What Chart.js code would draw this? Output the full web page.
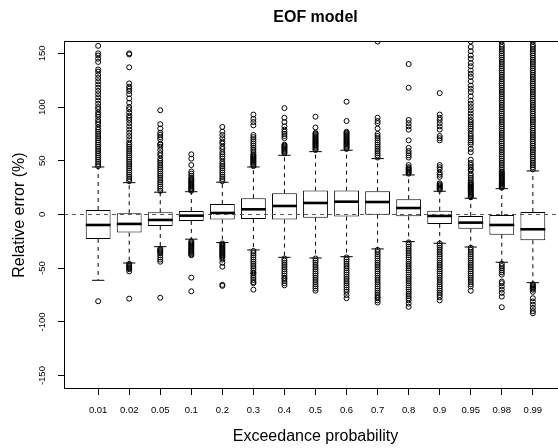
<!DOCTYPE html>
<html>
<head>
<meta charset="utf-8">
<script src="https://cdn.jsdelivr.net/npm/chart.js@4/dist/chart.umd.min.js"></script>
<style>
  html, body { margin: 0; padding: 0; background: #fff; overflow: hidden; }
  #wrap { width: 568px; height: 448px; position: relative; }
  canvas { display: block; }
</style>
</head>
<body>
<div id="wrap"><canvas id="c" width="568" height="448"></canvas></div>
<script>
// ---- data ----
const categories = ['0.01','0.02','0.05','0.1','0.2','0.3','0.4','0.5','0.6','0.7','0.8','0.9','0.95','0.98','0.99'];
const q1          = [-22.8, -16.9, -10.7, -6.0, -4.8, -4.2, -4.8, -3.0, -2.0, -0.2, -1.7, -8.8, -13.2, -18.8, -24.0];
const median      = [-9.8, -8.8, -5.1, -1.1, 1.4, 4.8, 7.9, 10.7, 11.9, 11.6, 6.0, -1.4, -7.6, -9.8, -13.8];
const q3          = [4.2, 1.1, 2.0, 3.2, 9.8, 15.1, 19.7, 22.2, 22.2, 21.6, 14.2, 3.5, -1.4, -0.5, 2.3];
const whiskerLow  = [-61.3, -45.2, -30.0, -23.0, -26.2, -33.0, -39.9, -40.5, -39.3, -32.1, -25.3, -26.8, -30.3, -44.5, -63.5];
const whiskerHigh = [44.2, 29.6, 20.7, 21.2, 30.0, 44.2, 55.1, 58.5, 59.8, 52.0, 36.8, 21.6, 15.1, 24.0, 40.5];
const outliersHigh = [
  [45,47,49,51,53,55,57,59,61,63,65,67,69,71,73,75,77,79,81,84,86,88,91,93,95,98,100,103,106,109,112,115,118,121,124,127,130,133,135,142,145,148,150,157],
  [31,33,35,37,39,41,43,45,47,49,51,53,55,57,59,61,63,65,67,70,73,76,79,82,85,88,90,92,95,98,100,104,108,112,115,117,119,122,137,149,150],
  [22,24,26,28,30,32,34,36,38,40,42,44,46,48,50,52,55,57,60,63,65,66,70,72,74,76,80,84,97],
  [22,23,24,25,26,27,28,29,30,31,32,33,34,36,38,40,46,52,56],
  [31,33,35,37,39,41,43,45,47,49,52,54,56,58,61,63,66,68,71,74,77,81.5],
  [45,46,47,48,49,50,51,52,53,54,55,56,58,60,62,64,66,68,70,72,74,83,86,89,93],
  [57,58,59,60,61,62,63,64,65,71,73,75,77,79,82,86,90,99],
  [60,61,62,63,64,65,66,67,68,69,70,71,72,73,74,75,76,81,91],
  [61,62,63,64,65,66,67,68,69,70,71,72,73,74,75,76,77,87,105],
  [53,55,57,59,61,63,65,67,69,71,73,75,80,85,87,90,161],
  [38,39,40,41,42,43,44,46,53,55,57,59,62,69,79,82,85,88,118,140],
  [23,24,25,26,27,28,29,35,37,39,42,44,46,69,71,73,79,82,85,88,90,93,113],
  [16,17,18,19,20,21,22,23,24,25,26,27,28,29,30,32,34,36,38,41,42,44,46,48,51,58,61,65,67,69,71,73,75,78,80,82,84,86,88,91,94,97,100,103,106,110,114,117,120,124,128,131,134,138,141,145,148,152,156,161],
  [25,26,27,28,29,30,31,32,33,34,35,36,37,38,39,40,42,44,46,48,50,52,54,56,58,60,62,64,66,68,70,72,74,76,78,80,82,84,86,88,90,92,94,96,98,100,102,104,106,108,110,112,114,116,118,120,122,124,126,128,130,132,134,136,138,140,142,144,146,148,150,152,154,156,158,161],
  [42,44,46,48,50,52,54,56,58,60,62,64,66,68,70,72,74,76,78,80,82,84,86,88,90,92,94,96,98,100,102,104,106,108,110,112,114,116,118,120,122,124,126,128,130,132,134,136,138,140,142,144,146,148,150,152,154,156,158,161]
];
const outliersLow = [
  [-80.8],
  [-46,-47,-48,-49,-50,-51,-53,-78.4],
  [-32,-33,-34,-35,-36,-38,-40,-42,-44,-77.5],
  [-25,-26,-27,-28,-29,-30,-31,-32,-33,-34,-35,-36,-37,-38,-58.8,-71.5],
  [-27,-28,-29,-30,-31,-32,-33,-34,-35,-36,-37,-38,-39,-40,-42,-45,-48.6,-65.5,-66.5],
  [-34,-36,-38,-40,-42,-44,-46,-48,-50,-52,-54,-55,-57,-59,-61,-63,-64,-70],
  [-41,-43,-45,-47,-49,-51,-53,-55,-57,-59,-60,-62,-64,-66],
  [-41,-43,-45,-47,-49,-51,-53,-55,-57,-59,-61,-63,-65,-67,-69,-71],
  [-40,-42,-44,-46,-48,-50,-52,-54,-56,-58,-60,-62,-64,-66,-68,-70,-72,-75,-78],
  [-33,-35,-37,-39,-41,-43,-45,-47,-49,-51,-53,-55,-57,-59,-61,-63,-65,-67,-69,-71,-73,-75,-77,-78,-80,-82],
  [-26,-28,-30,-32,-34,-36,-38,-40,-42,-44,-46,-48,-50,-52,-54,-56,-58,-60,-62,-64,-66,-68,-70,-72,-74,-76,-78,-80,-83,-86],
  [-27,-29,-31,-33,-35,-37,-39,-41,-43,-45,-47,-49,-51,-53,-55,-57,-59,-61,-63,-65,-67,-69,-71,-73,-75,-77,-80],
  [-31,-33,-35,-37,-39,-41,-43,-45,-47,-49,-51,-53,-55,-57,-59,-61,-63,-65,-67,-71],
  [-46,-48,-50,-52,-54,-56,-62.5,-64,-67,-70,-73,-76.5,-86.4],
  [-65,-66,-67,-68,-69,-70,-72,-78,-81,-84,-87,-90,-92]
];
const yTickValues = [-150, -100, -50, 0, 50, 100, 150];
const chartTitle = 'EOF model';
const xTitle = 'Exceedance probability';
const yTitle = 'Relative error (%)';

// ---- build datasets from the arrays ----
const pos = categories.map((c, i) => i + 1);
const boxData = pos.map((x, i) => ({ x, y: [q1[i], q3[i]] }));
const medianData = pos.map((x, i) => ({ x, y: median[i] }));
const capData = [];
const whiskerData = [];
pos.forEach((x, i) => {
  capData.push({ x, y: whiskerHigh[i] }, { x, y: whiskerLow[i] });
  whiskerData.push({ x, y: q3[i] }, { x, y: whiskerHigh[i] }, { x, y: null },
                   { x, y: q1[i] }, { x, y: whiskerLow[i] }, { x, y: null });
});
const outlierData = [];
pos.forEach((x, i) => {
  outliersHigh[i].forEach(v => outlierData.push({ x, y: v }));
  outliersLow[i].forEach(v => outlierData.push({ x, y: v }));
});

Chart.defaults.font.family = "'Liberation Sans', Arial, sans-serif";
Chart.defaults.color = '#000';

const framePlugin = {
  id: 'frameAndTitle',
  afterDraw(chart) {
    const { ctx, chartArea: a, scales } = chart;
    ctx.save();
    ctx.strokeStyle = '#000';
    ctx.lineWidth = 1;
    ctx.strokeRect(a.left + 0.5, a.top + 0.5, a.right - a.left - 1, a.bottom - a.top - 1);
    ctx.fillStyle = '#000';
    ctx.font = "bold 16px 'Liberation Sans', Arial, sans-serif";
    ctx.textAlign = 'center';
    ctx.textBaseline = 'alphabetic';
    ctx.fillText(chartTitle, (scales.x.left + scales.x.right) / 2, 22);
    ctx.restore();
  }
};

new Chart(document.getElementById('c'), {
  type: 'scatter',
  data: {
    datasets: [
      { type: 'line', data: [{ x: -0.1, y: 0 }, { x: 16.1, y: 0 }], borderColor: '#555', borderWidth: 1,
        borderDash: [4, 4], pointRadius: 0, fill: false, order: 0 },
      { type: 'scatter', data: outlierData, pointStyle: 'circle', pointRadius: 2.5, borderWidth: 1,
        borderColor: '#000', backgroundColor: 'rgba(0,0,0,0)', order: 1 },
      { type: 'scatter', data: medianData, pointStyle: 'line', pointRadius: 12.42, borderWidth: 2.6,
        borderColor: '#000', order: 2 },
      { type: 'bar', data: boxData, backgroundColor: '#fff', borderColor: '#000', borderWidth: 1,
        borderSkipped: false, categoryPercentage: 0.8, barPercentage: 1, order: 3 },
      { type: 'scatter', data: capData, pointStyle: 'line', pointRadius: 6.2, borderWidth: 1,
        borderColor: '#000', order: 4 },
      { type: 'line', data: whiskerData, borderColor: '#000', borderWidth: 1, borderDash: [4, 4],
        pointRadius: 0, spanGaps: false, fill: false, order: 5 }
    ]
  },
  options: {
    responsive: false,
    maintainAspectRatio: false,
    animation: false,
    events: [],
    layout: { autoPadding: false, padding: { top: 41, right: 1, left: 0, bottom: 0 } },
    plugins: { legend: { display: false }, tooltip: { enabled: false }, title: { display: false } },
    scales: {
      x: {
        type: 'linear', min: -0.1, max: 16.1, offset: false,
        afterFit: s => { s.height = 59; },
        afterBuildTicks: s => { s.ticks = pos.map(v => ({ value: v })); },
        ticks: { callback: v => categories[v - 1], autoSkip: false, maxRotation: 0, minRotation: 0,
                 padding: 10, font: { size: 9.5 }, color: '#000' },
        grid: { display: true, offset: false, drawOnChartArea: false, drawTicks: true, tickLength: 6, color: '#000', tickColor: '#000', lineWidth: 1 },
        border: { display: false },
        title: { display: true, text: xTitle, font: { size: 16 }, color: '#000', padding: { top: 0, bottom: 2 } }
      },
      y: {
        type: 'linear', min: -162.5, max: 161.5,
        afterFit: s => { s.width = 64; },
        afterBuildTicks: s => { s.ticks = yTickValues.map(v => ({ value: v })); },
        ticks: { autoSkip: false, minRotation: 90, maxRotation: 90, crossAlign: 'center', padding: 6,
                 font: { size: 9.5 }, color: '#000' },
        grid: { display: true, offset: false, drawOnChartArea: false, drawTicks: true, tickLength: 6, color: '#000', tickColor: '#000', lineWidth: 1 },
        border: { display: false },
        title: { display: true, text: yTitle, font: { size: 16 }, color: '#000', padding: { top: 9.5, bottom: 0 } }
      }
    }
  },
  plugins: [framePlugin]
});
</script>
</body>
</html>
